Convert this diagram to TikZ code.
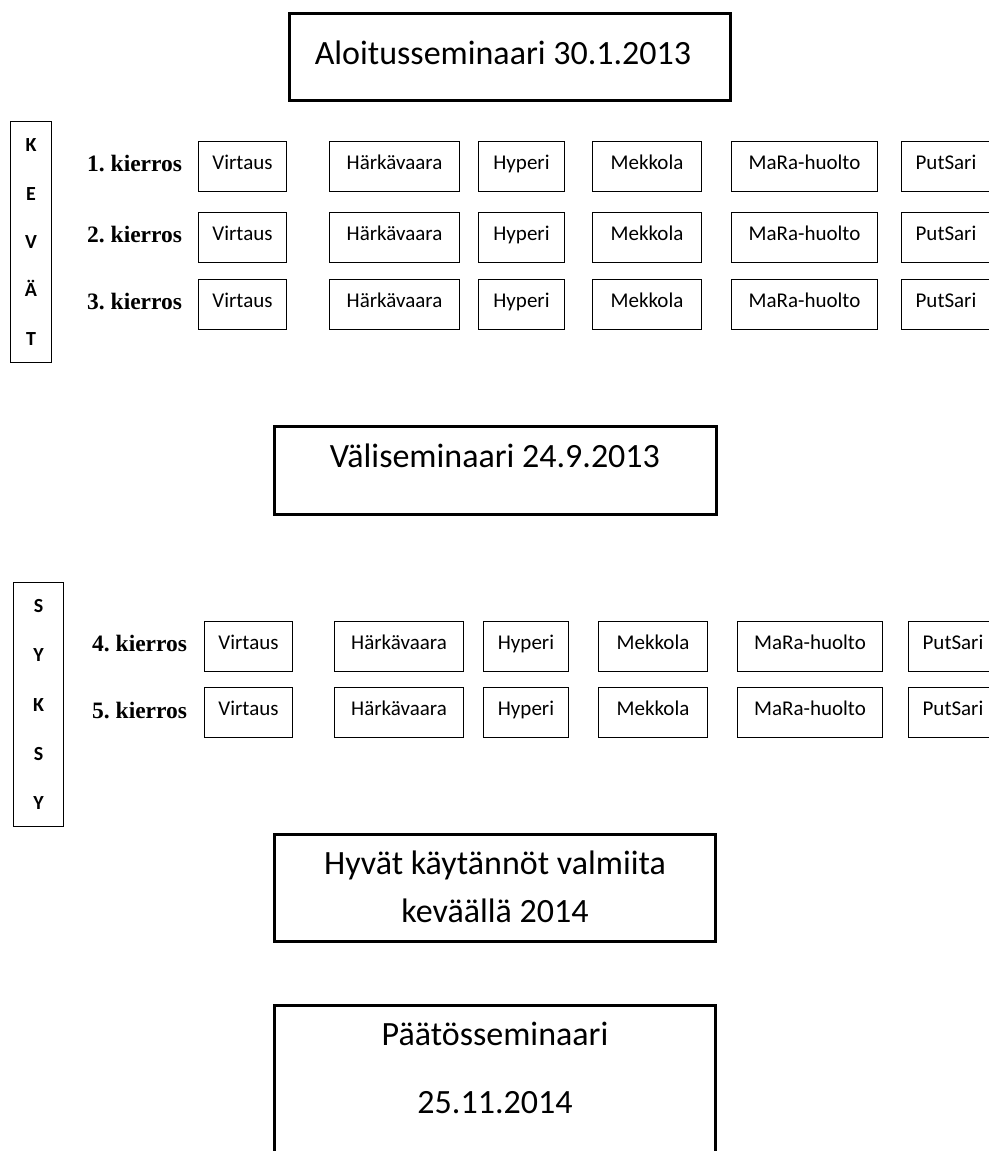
\documentclass[tikz,border=0pt]{standalone}
\usepackage{fontspec}
\setmainfont{Carlito}
\newfontfamily\kierrosfont{Liberation Serif}
\usepackage{tikz}

\begin{document}
\frenchspacing
\begin{tikzpicture}[line join=miter,
  seminaari/.style={draw, line width=3bp, inner sep=0pt},
  seminaariteksti/.style={inner sep=0pt, align=center, font=\fontsize{34bp}{48bp}\selectfont},
  kausi/.style={draw, line width=0.8bp, inner sep=0pt, align=center, font=\fontsize{20bp}{#1}\selectfont\bfseries},
  kierros/.style={anchor=base west, inner sep=0pt, font=\fontsize{23.5bp}{27bp}\kierrosfont\bfseries},
  ryhma/.style={draw, line width=0.8bp, minimum height=50bp, inner sep=0pt, text height=13.3bp, text depth=7bp, font=\fontsize{21bp}{25bp}\selectfont},
]
\useasboundingbox (0bp,0bp) rectangle (989bp,1151bp);

% Node: Aloitusseminaari
\node[seminaari, minimum width=441bp, minimum height=87bp] (aloitus) at (510bp,1094bp) {};
\node[seminaariteksti, anchor=base] (aloitusteksti) at (503bp,1086bp) {Aloitusseminaari 30.1.2013};

% Node: KEVÄT
\node[kausi=48.3bp, minimum width=41bp, minimum height=241bp] (kevat) at (31bp,909bp) {K\\E\\V\\Ä\\T};

% Row: 1. kierros
\node[kierros] (kierros1) at (87bp,979.5bp) {1. kierros};
\node[ryhma, minimum width=88bp] (virtaus1) at (242.5bp,985bp) {Virtaus};
\node[ryhma, minimum width=130bp] (harka1) at (394.5bp,985bp) {Härkävaara};
\node[ryhma, minimum width=86bp] (hyperi1) at (521.5bp,985bp) {Hyperi};
\node[ryhma, minimum width=109bp] (mekkola1) at (647bp,985bp) {Mekkola};
\node[ryhma, minimum width=146bp] (mara1) at (804.5bp,985bp) {MaRa-huolto};
\node[ryhma, minimum width=89bp] (putsari1) at (946bp,985bp) {PutSari};

% Row: 2. kierros
\node[kierros] (kierros2) at (87bp,908.5bp) {2. kierros};
\node[ryhma, minimum width=88bp] (virtaus2) at (242.5bp,914bp) {Virtaus};
\node[ryhma, minimum width=130bp] (harka2) at (394.5bp,914bp) {Härkävaara};
\node[ryhma, minimum width=86bp] (hyperi2) at (521.5bp,914bp) {Hyperi};
\node[ryhma, minimum width=109bp] (mekkola2) at (647bp,914bp) {Mekkola};
\node[ryhma, minimum width=146bp] (mara2) at (804.5bp,914bp) {MaRa-huolto};
\node[ryhma, minimum width=89bp] (putsari2) at (946bp,914bp) {PutSari};

% Row: 3. kierros
\node[kierros] (kierros3) at (87bp,841.5bp) {3. kierros};
\node[ryhma, minimum width=88bp] (virtaus3) at (242.5bp,847bp) {Virtaus};
\node[ryhma, minimum width=130bp] (harka3) at (394.5bp,847bp) {Härkävaara};
\node[ryhma, minimum width=86bp] (hyperi3) at (521.5bp,847bp) {Hyperi};
\node[ryhma, minimum width=109bp] (mekkola3) at (647bp,847bp) {Mekkola};
\node[ryhma, minimum width=146bp] (mara3) at (804.5bp,847bp) {MaRa-huolto};
\node[ryhma, minimum width=89bp] (putsari3) at (946bp,847bp) {PutSari};

% Node: Väliseminaari
\node[seminaari, minimum width=442bp, minimum height=88bp] (vali) at (495.5bp,680.5bp) {};
\node[seminaariteksti, anchor=base] (valiteksti) at (495bp,683bp) {Väliseminaari 24.9.2013};

% Node: SYKSY
\node[kausi=49.2bp, minimum width=50bp, minimum height=244bp] (syksy) at (38.5bp,446.5bp) {S\\Y\\K\\S\\Y};

% Row: 4. kierros
\node[kierros] (kierros4) at (92bp,499bp) {4. kierros};
\node[ryhma, minimum width=88bp] (virtaus4) at (248.5bp,505bp) {Virtaus};
\node[ryhma, minimum width=129bp] (harka4) at (399bp,505bp) {Härkävaara};
\node[ryhma, minimum width=85bp] (hyperi4) at (526bp,505bp) {Hyperi};
\node[ryhma, minimum width=109bp] (mekkola4) at (653bp,505bp) {Mekkola};
\node[ryhma, minimum width=145bp] (mara4) at (810bp,505bp) {MaRa-huolto};
\node[ryhma, minimum width=89bp] (putsari4) at (953bp,505bp) {PutSari};

% Row: 5. kierros
\node[kierros] (kierros5) at (92bp,432bp) {5. kierros};
\node[ryhma, minimum width=88bp] (virtaus5) at (248.5bp,438.5bp) {Virtaus};
\node[ryhma, minimum width=129bp] (harka5) at (399bp,438.5bp) {Härkävaara};
\node[ryhma, minimum width=85bp] (hyperi5) at (526bp,438.5bp) {Hyperi};
\node[ryhma, minimum width=109bp] (mekkola5) at (653bp,438.5bp) {Mekkola};
\node[ryhma, minimum width=145bp] (mara5) at (810bp,438.5bp) {MaRa-huolto};
\node[ryhma, minimum width=89bp] (putsari5) at (953bp,438.5bp) {PutSari};

% Node: Hyvät käytännöt
\node[seminaari, minimum width=441bp, minimum height=107bp] (hyvat) at (495bp,263bp) {};
\node[seminaariteksti, anchor=base] (hyvatteksti) at (495bp,228bp) {Hyvät käytännöt valmiita\\keväällä 2014};

% Node: Päätösseminaari
\node[seminaari, minimum width=441bp, minimum height=154.5bp] (paatos) at (495bp,68.25bp) {};
\node[seminaariteksti, anchor=base] (paatosteksti) at (495bp,38bp) {Päätösseminaari\\[20bp]25.11.2014};
%
\end{tikzpicture}
\end{document}
